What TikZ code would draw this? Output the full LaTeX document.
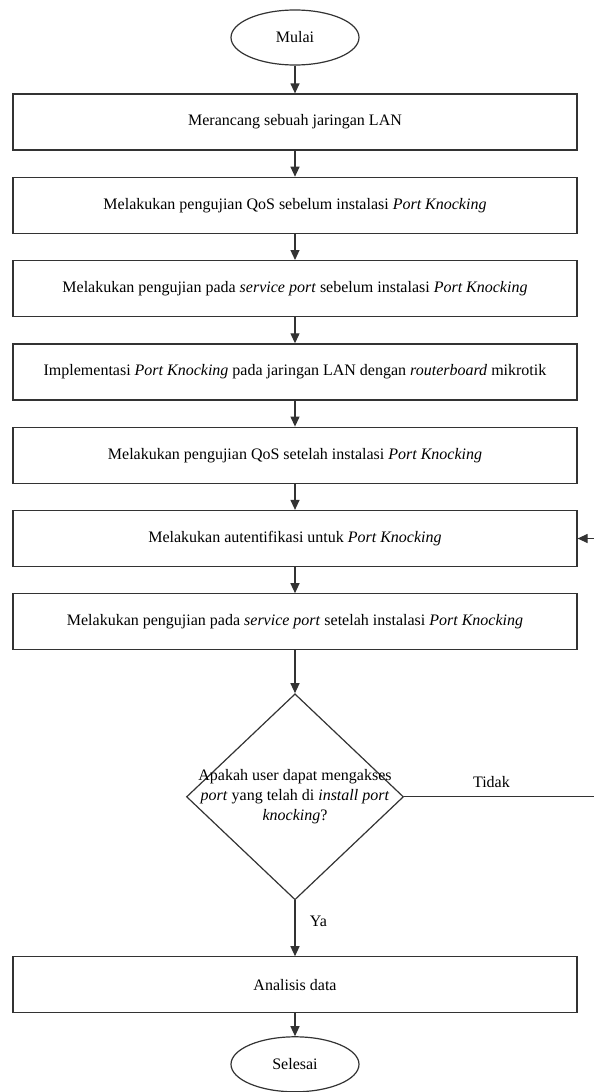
\documentclass[tikz,border=0pt]{standalone}
\usepackage{fontspec}
\setmainfont{Liberation Serif}
\usetikzlibrary{positioning}
\usetikzlibrary{shapes.geometric}
\usetikzlibrary{arrows.meta}

\begin{document}
\begin{tikzpicture}
[x=1pt,y=1pt,%
  flow/.style={-{Triangle[width=9pt,length=10pt]},draw=black!80,line width=1.2pt},%
  stepbox/.style={draw=black!80,line width=1.2pt,minimum width=564pt,minimum height=56pt,inner sep=0pt},%
  terminal/.style={shape=ellipse,draw=black!80,line width=1.2pt,minimum width=128pt,minimum height=55pt,inner sep=0pt},%
  decision/.style={shape=diamond,draw=black!80,line width=1.2pt,minimum width=217pt,minimum height=206pt,inner sep=0pt},%
  node distance=26.1pt]
\fontsize{16}{20}\selectfont
\useasboundingbox (0,0) rectangle (594,-1092);
\node[terminal] (mulai) at (295,-37.5) {Mulai};
\node[stepbox,below=27.8pt of mulai] (b1) {Merancang sebuah jaringan LAN};
\node[stepbox,below=of b1] (b2) {Melakukan pengujian QoS sebelum instalasi \textit{Port Knocking}};
\node[stepbox,below=of b2] (b3) {Melakukan pengujian pada \textit{service port} sebelum instalasi \textit{Port Knocking}};
\node[stepbox,below=of b3] (b4) {Implementasi \textit{Port Knocking} pada jaringan LAN dengan \textit{routerboard} mikrotik};
\node[stepbox,below=of b4] (b5) {Melakukan pengujian QoS setelah instalasi \textit{Port Knocking}};
\node[stepbox,below=of b5] (b6) {Melakukan autentifikasi untuk \textit{Port Knocking}};
\node[stepbox,below=of b6] (b7) {Melakukan pengujian pada \textit{service port} setelah instalasi \textit{Port Knocking}};
\node[decision,below=42.8pt of b7,
  label={[align=center]center:Apakah user dapat mengakses\\
    \textit{port} yang telah di \textit{install port}\\
    \textit{knocking}?}] (cek) {};
\node[stepbox,below=55.8pt of cek] (analisis) {Analisis data};
\node[terminal,below=22.8pt of analisis] (selesai) {Selesai};

\draw[flow] (mulai) -- (b1);
\draw[flow] (b1) -- (b2);
\draw[flow] (b2) -- (b3);
\draw[flow] (b3) -- (b4);
\draw[flow] (b4) -- (b5);
\draw[flow] (b5) -- (b6);
\draw[flow] (b6) -- (b7);
\draw[flow] (b7) -- (cek);
\draw[flow] (cek) -- node[right=9pt,pos=0.38] {Ya} (analisis);
\draw[flow] (analisis) -- (selesai);
% back to autentifikasi, cut off at the right border
\begin{scope}
\clip (0,0) rectangle (594,-1092);
\coordinate (rand) at (612,0);
\coordinate (balik) at (cek.east -| rand);
\draw[flow] (cek.east) -- node[above=3pt,pos=0.42] {Tidak} (balik) |- (b6.east);
\end{scope}
\end{tikzpicture}
\end{document}
